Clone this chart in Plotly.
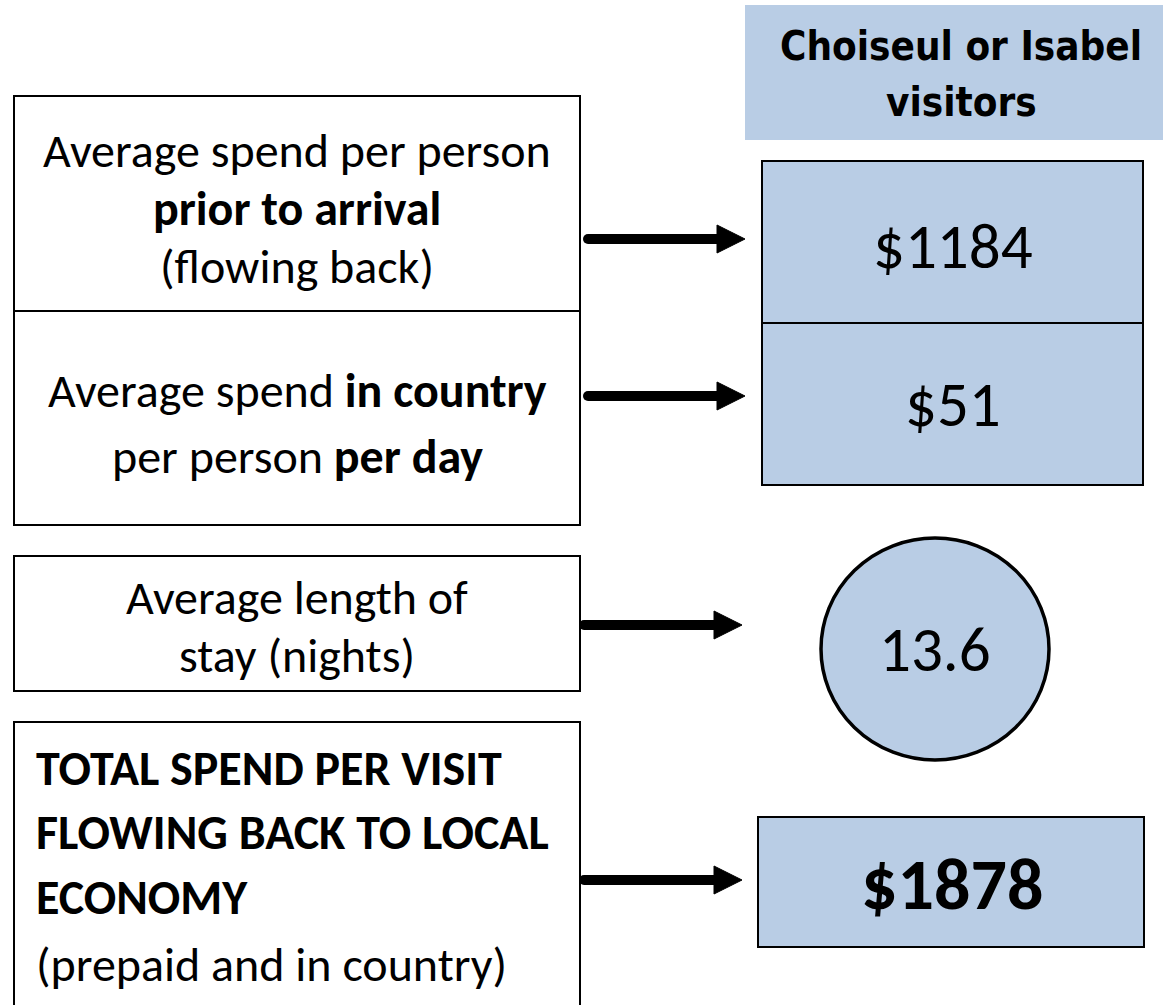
import plotly.graph_objects as go

# ---- data ----
header_lines = ["Choiseul or Isabel", "visitors"]
row_labels = [
    ["Average spend per person", "<b>prior to arrival</b>", "(flowing back)"],
    ["Average spend <b>in country</b>", "per person <b>per day</b>"],
    ["Average length of", "stay (nights)"],
    ["<b>TOTAL SPEND PER VISIT</b>", "<b>FLOWING BACK TO LOCAL</b>", "<b>ECONOMY</b>", "(prepaid and in country)"],
]
values = [1184, 51, 13.6, 1878]
value_labels = ["$1184", "$51", "13.6", "<b>$1878</b>"]

W, H = 1163, 1005
FILL = "#B9CDE5"
BODY = "Carlito, Calibri, Lato, sans-serif"
HEAD = "'Liberation Sans Narrow', 'Arial Narrow', 'DejaVu Sans Condensed', sans-serif"

fig = go.Figure()
fig.add_trace(go.Scatter(x=[0, W], y=[0, H], mode="markers", marker=dict(opacity=0), hoverinfo="skip", showlegend=False))

shapes = []
def rect(x0, y0, x1, y1, fill="white", lw=2):
    shapes.append(dict(type="rect", x0=x0, y0=y0, x1=x1, y1=y1, xref="x", yref="y",
                       line=dict(color="#000000" if lw else "rgba(0,0,0,0)", width=lw), fillcolor=fill, layer="below"))

# header
rect(745, 5, 1163, 140, fill=FILL, lw=0)
# left boxes
rect(14, 96, 580, 311)
rect(14, 311, 580, 525)
rect(14, 556, 580, 691)
rect(14, 722, 580, 1010)
# right boxes
rect(762, 161, 1143, 323, fill=FILL)
rect(762, 323, 1143, 485, fill=FILL)
shapes.append(dict(type="circle", x0=821, y0=538, x1=1049, y1=760, xref="x", yref="y",
                   line=dict(color="#000000", width=3.5), fillcolor=FILL, layer="below"))
rect(758, 817, 1144, 947, fill=FILL)

# arrows
for (xs, xe, y) in [(588, 745, 239), (588, 745, 396), (584, 742, 625), (584, 742, 880)]:
    shapes.append(dict(type="line", x0=xs, y0=y, x1=xe - 24, y1=y, xref="x", yref="y",
                       line=dict(color="#000000", width=10)))
    shapes.append(dict(type="circle", x0=xs - 5, y0=y - 5, x1=xs + 5, y1=y + 5, xref="x", yref="y",
                       fillcolor="#000000", line=dict(width=0)))
    shapes.append(dict(type="path", path=f"M {xe-28},{y-14} L {xe},{y} L {xe-28},{y+14} Z",
                       xref="x", yref="y", fillcolor="#000000", line=dict(color="#000000", width=1)))

ann = []
def txt(x, y, t, size, family=BODY, xanchor="center"):
    ann.append(dict(x=x, y=y, xref="x", yref="y", text=t, showarrow=False, xanchor=xanchor, yanchor="middle",
                    font=dict(family=family, size=size, color="#000000")))

# header text
for t, y in zip(header_lines, [46, 102]):
    txt(961, y, "<b>" + t + "</b>", 40, family=HEAD)

# left labels
ys = [[150, 208, 266], [390, 456], [597, 655]]
for lines, yy in zip(row_labels[:3], ys):
    for t, y in zip(lines, yy):
        txt(297, y, t, 48)
for t, y in zip(row_labels[3], [768, 832, 897, 964]):
    txt(34, y, t, 48, xanchor="left")

# values
for t, (x, y, s) in zip(value_labels, [(953, 246, 63), (953, 404, 63), (935, 649, 63), (952, 884, 72)]):
    txt(x, y, t, s)

fig.update_layout(
    width=W, height=H, margin=dict(l=0, r=0, t=0, b=0),
    paper_bgcolor="white", plot_bgcolor="white",
    xaxis=dict(range=[0, W], visible=False, fixedrange=True),
    yaxis=dict(range=[H, 0], visible=False, fixedrange=True),
    shapes=shapes, annotations=ann, showlegend=False,
)
fig.write_html("out.html", config={"displayModeBar": False},
               post_script="document.body.style.margin='0px';document.body.style.overflow='hidden';")
